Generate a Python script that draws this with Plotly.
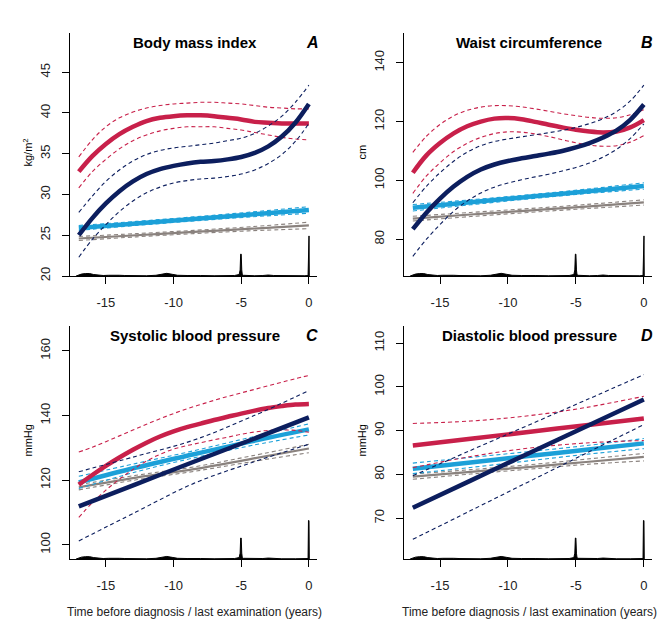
import plotly.graph_objects as go

# ---------------- data ----------------
x_curve = [-17, -16, -15, -14, -13, -12, -11, -10, -9, -8, -7, -6, -5, -4, -3, -2, -1, 0]
x_lin = [-17, -12.75, -8.5, -4.25, 0]

# Panel A: Body mass index
bmi_red = [32.8, 34.7, 36.2, 37.4, 38.3, 39.0, 39.4, 39.6, 39.7, 39.7, 39.6, 39.4, 39.2, 38.9, 38.8, 38.7, 38.7, 38.7]
bmi_red_hi = [34.6, 36.7, 38.3, 39.4, 40.1, 40.6, 40.9, 41.1, 41.2, 41.3, 41.3, 41.2, 41.1, 40.9, 40.7, 40.6, 40.5, 40.5]
bmi_red_lo = [30.8, 32.8, 34.3, 35.6, 36.6, 37.3, 37.8, 38.1, 38.3, 38.3, 38.3, 38.1, 37.9, 37.6, 37.3, 37.0, 36.8, 36.7]
bmi_navy = [25.0, 27.1, 28.9, 30.4, 31.6, 32.5, 33.1, 33.5, 33.8, 34.0, 34.1, 34.3, 34.6, 35.1, 35.9, 37.1, 38.8, 41.1]
bmi_navy_hi = [27.8, 29.8, 31.6, 33.0, 34.1, 34.9, 35.4, 35.7, 35.9, 36.1, 36.3, 36.6, 36.9, 37.5, 38.4, 39.6, 41.3, 43.4]
bmi_navy_lo = [22.3, 24.5, 26.3, 27.9, 29.2, 30.2, 30.9, 31.4, 31.7, 31.9, 32.0, 32.2, 32.5, 33.0, 33.8, 34.9, 36.5, 38.7]
bmi_blue = [25.9, 26.45, 27.0, 27.55, 28.1]
bmi_blue_hi = [26.2, 26.7, 27.25, 27.85, 28.5]
bmi_blue_lo = [25.6, 26.2, 26.75, 27.25, 27.7]
bmi_gray = [24.6, 25.0, 25.4, 25.8, 26.2]
bmi_gray_hi = [24.85, 25.2, 25.6, 26.05, 26.6]
bmi_gray_lo = [24.35, 24.8, 25.2, 25.55, 25.8]

# Panel B: Waist circumference
wc_red = [102.6, 108.5, 112.7, 116.0, 118.4, 120.0, 121.0, 121.2, 120.8, 119.9, 118.9, 118.0, 117.2, 116.6, 116.3, 116.6, 118.0, 120.5]
wc_red_hi = [109.5, 115.0, 119.0, 121.9, 123.8, 124.9, 125.4, 125.4, 125.0, 124.3, 123.5, 122.7, 122.0, 121.4, 121.1, 121.3, 122.3, 124.0]
wc_red_lo = [95.6, 101.5, 106.0, 109.8, 112.6, 114.6, 115.9, 116.5, 116.4, 115.8, 114.9, 113.8, 112.8, 112.0, 111.6, 111.8, 113.0, 115.2]
wc_navy = [83.4, 89.0, 93.8, 97.9, 101.2, 103.7, 105.4, 106.6, 107.5, 108.3, 109.1, 110.0, 111.2, 112.7, 114.6, 117.0, 120.6, 125.8]
wc_navy_hi = [92.4, 98.0, 102.6, 106.5, 109.6, 111.8, 113.2, 114.1, 114.8, 115.5, 116.2, 117.0, 118.0, 119.3, 121.0, 123.4, 127.0, 132.4]
wc_navy_lo = [74.2, 80.0, 85.0, 89.5, 93.0, 95.7, 97.7, 99.1, 100.2, 101.2, 102.1, 103.2, 104.4, 105.9, 107.9, 110.6, 114.3, 119.2]
wc_blue = [90.7, 92.55, 94.4, 96.25, 98.1]
wc_blue_hi = [91.8, 93.4, 95.1, 97.0, 99.2]
wc_blue_lo = [89.6, 91.7, 93.7, 95.5, 97.0]
wc_gray = [87.0, 88.4, 89.75, 91.1, 92.5]
wc_gray_hi = [87.8, 89.1, 90.4, 91.8, 93.4]
wc_gray_lo = [86.2, 87.7, 89.1, 90.4, 91.6]

# Panel C: Systolic blood pressure
sbp_red = [118.6, 121.6, 124.4, 127.0, 129.4, 131.6, 133.5, 135.1, 136.4, 137.5, 138.6, 139.6, 140.6, 141.5, 142.3, 142.9, 143.4, 143.6]
sbp_red_hi = [128.7, 130.2, 131.9, 133.7, 135.5, 137.3, 139.0, 140.6, 142.1, 143.4, 144.7, 145.9, 147.0, 148.1, 149.2, 150.3, 151.4, 152.4]
sbp_red_lo = [108.5, 113.0, 116.9, 120.3, 123.3, 125.9, 128.0, 129.6, 130.7, 131.6, 132.5, 133.3, 134.2, 134.9, 135.4, 135.5, 135.4, 134.8]
sbp_navy = [111.9, 118.8, 125.7, 132.5, 139.4]
sbp_navy_hi = [122.6, 127.4, 132.4, 139.6, 147.7]
sbp_navy_lo = [101.2, 110.2, 119.0, 125.4, 131.1]
sbp_blue = [119.3, 123.9, 128.0, 132.0, 135.7]
sbp_blue_hi = [121.2, 125.2, 129.1, 133.3, 137.4]
sbp_blue_lo = [117.4, 122.6, 126.9, 130.7, 134.0]
sbp_gray = [117.8, 120.8, 123.4, 126.6, 129.8]
sbp_gray_hi = [118.6, 121.5, 124.1, 127.5, 131.1]
sbp_gray_lo = [117.0, 120.1, 122.7, 125.7, 128.5]

# Panel D: Diastolic blood pressure
dbp_red = [86.6, 88.15, 89.7, 91.25, 92.8]
dbp_red_hi = [91.65, 92.2, 93.4, 95.3, 97.85]
dbp_red_lo = [81.55, 84.1, 86.0, 87.2, 87.75]
dbp_navy = [72.4, 78.6, 84.8, 90.95, 97.1]
dbp_navy_hi = [79.7, 85.5, 91.25, 97.0, 102.8]
dbp_navy_lo = [65.2, 71.75, 78.3, 84.85, 91.4]
dbp_blue = [81.3, 82.75, 84.2, 85.65, 87.1]
dbp_blue_hi = [82.6, 83.9, 85.2, 86.6, 88.2]
dbp_blue_lo = [80.2, 81.6, 83.1, 84.6, 85.9]
dbp_gray = [79.5, 80.6, 81.7, 82.85, 84.0]
dbp_gray_hi = [80.1, 81.1, 82.2, 83.5, 84.8]
dbp_gray_lo = [78.9, 80.1, 81.2, 82.3, 83.1]

# Distribution of examination times (relative height of the rug density)
dens_x = [-17.2, -17.0, -16.8, -16.5, -16.2, -15.9, -15.6, -15.2, -14.8, -14.4, -14.0, -13.6, -13.0,
          -12.0, -11.3, -10.9, -10.5, -10.1, -9.7, -9.0, -8.5, -8.0, -7.0, -6.0, -5.5, -5.15, -5.08,
          -5.04, -5.0, -4.96, -4.92, -4.85, -4.5, -4.0, -3.4, -3.0, -2.6, -2.0, -1.0, -0.3, -0.06,
          -0.03, 0.01, 0.03]
dens_y = [0.0, 0.004, 0.008, 0.010, 0.010, 0.006, 0.003, 0.002, 0.003, 0.004, 0.003, 0.002, 0.001,
          0.001, 0.003, 0.008, 0.011, 0.007, 0.003, 0.002, 0.003, 0.002, 0.001, 0.001, 0.002, 0.006, 0.025,
          0.09, 0.09, 0.025, 0.006, 0.003, 0.002, 0.001, 0.002, 0.004, 0.002, 0.001, 0.001, 0.001, 0.002,
          0.165, 0.165, 0.0]

titles = ["Body mass index", "Waist circumference", "Systolic blood pressure", "Diastolic blood pressure"]
letters = ["A", "B", "C", "D"]
units = ["kg/m<sup>2</sup>", "cm", "mmHg", "mmHg"]
y_ticks = [[20, 25, 30, 35, 40, 45], [80, 100, 120, 140], [100, 120, 140, 160], [70, 80, 90, 100, 110]]
x_ticks = [-15, -10, -5, 0]
x_label = "Time before diagnosis / last examination (years)"

# ---------------- styling ----------------
OFF = 8                 # default page margin of the html body
W, H = 669 - OFF, 630 - OFF
RED = "#C8204A"
NAVY = "#0C1E5E"
BLUE = "#1CA0D8"
GRAY = "#8A827E"
FONT = "Liberation Sans, Arial, sans-serif"


def fx(px):
    return (px - OFF) / W


def fy(py):
    return 1 - (py - OFF) / H


panels = [
    dict(curve=[(x_lin, bmi_gray, bmi_gray_hi, bmi_gray_lo, GRAY, 2.2),
                (x_lin, bmi_blue, bmi_blue_hi, bmi_blue_lo, BLUE, 4.5),
                (x_curve, bmi_red, bmi_red_hi, bmi_red_lo, RED, 4.5),
                (x_curve, bmi_navy, bmi_navy_hi, bmi_navy_lo, NAVY, 4.5)],
         px=(70, 317), py=(33, 276), yr=[20, 49.8]),
    dict(curve=[(x_lin, wc_gray, wc_gray_hi, wc_gray_lo, GRAY, 2.2),
                (x_lin, wc_blue, wc_blue_hi, wc_blue_lo, BLUE, 4.5),
                (x_curve, wc_red, wc_red_hi, wc_red_lo, RED, 4.5),
                (x_curve, wc_navy, wc_navy_hi, wc_navy_lo, NAVY, 4.5)],
         px=(404, 652), py=(33, 276), yr=[67.5, 150.1]),
    dict(curve=[(x_lin, sbp_gray, sbp_gray_hi, sbp_gray_lo, GRAY, 2.2),
                (x_lin, sbp_blue, sbp_blue_hi, sbp_blue_lo, BLUE, 4.5),
                (x_curve, sbp_red, sbp_red_hi, sbp_red_lo, RED, 4.5),
                (x_lin, sbp_navy, sbp_navy_hi, sbp_navy_lo, NAVY, 4.5)],
         px=(70, 317), py=(326, 559), yr=[95.6, 167.7]),
    dict(curve=[(x_lin, dbp_gray, dbp_gray_hi, dbp_gray_lo, GRAY, 2.2),
                (x_lin, dbp_blue, dbp_blue_hi, dbp_blue_lo, BLUE, 4.5),
                (x_lin, dbp_red, dbp_red_hi, dbp_red_lo, RED, 4.5),
                (x_lin, dbp_navy, dbp_navy_hi, dbp_navy_lo, NAVY, 4.5)],
         px=(404, 652), py=(326, 559), yr=[60.7, 113.9]),
]

fig = go.Figure()
layout = dict(width=W, height=H, margin=dict(l=0, r=0, t=0, b=0, autoexpand=False),
              paper_bgcolor="white", plot_bgcolor="white", showlegend=False,
              font=dict(family=FONT, color="#222"))
annotations = []

for i, p in enumerate(panels):
    n = i + 1
    xa = "x" if n == 1 else f"x{n}"
    ya = "y" if n == 1 else f"y{n}"
    yd = f"y{n + 4}"
    xdom = [fx(p["px"][0]), fx(p["px"][1])]
    ydom = [fy(p["py"][1]), fy(p["py"][0])]

    # rug density at bottom (secondary, hidden axis 0..1)
    fig.add_trace(go.Scatter(x=dens_x, y=dens_y, xaxis=xa, yaxis=yd, mode="lines",
                             line=dict(color="black", width=1), fill="tozeroy",
                             fillcolor="black", hoverinfo="skip"))

    for (xx, m, hi, lo, col, lw) in p["curve"]:
        for band in (hi, lo):
            fig.add_trace(go.Scatter(x=xx, y=band, xaxis=xa, yaxis=ya, mode="lines",
                                     line=dict(color=col, width=1.1, dash="4px,3px", shape="spline")))
        fig.add_trace(go.Scatter(x=xx, y=m, xaxis=xa, yaxis=ya, mode="lines",
                                 line=dict(color=col, width=lw, shape="spline")))

    axis_common = dict(showline=True, linecolor="black", linewidth=1, ticks="outside",
                       ticklen=7, tickwidth=1, tickcolor="black", showgrid=False,
                       zeroline=False, tickfont=dict(family=FONT, size=13, color="#222"))
    layout["xaxis" if n == 1 else f"xaxis{n}"] = dict(
        domain=xdom, range=[-17.65, 0.6], anchor=ya, tickvals=x_ticks,
        ticktext=[str(v) for v in x_ticks], ticklabelstandoff=7, **axis_common)
    layout["yaxis" if n == 1 else f"yaxis{n}"] = dict(
        domain=ydom, range=p["yr"], anchor=xa, tickvals=y_ticks[i],
        ticktext=[str(v) for v in y_ticks[i]], tickangle=-90, ticklabelstandoff=7, **axis_common)
    layout[f"yaxis{n + 4}"] = dict(overlaying=ya, anchor=xa, range=[0, 1], visible=False)

    cx = (p["px"][0] + p["px"][1]) / 2
    ty = p["py"][0] + 10
    annotations.append(dict(text=f"<b>{titles[i]}</b>", x=fx(cx + 1), y=fy(ty),
                            xref="paper", yref="paper", showarrow=False,
                            xanchor="center", yanchor="middle",
                            font=dict(family=FONT, size=15, color="black")))
    annotations.append(dict(text=f"<b><i>{letters[i]}</i></b>", x=fx(p["px"][1] - 5), y=fy(ty),
                            xref="paper", yref="paper", showarrow=False,
                            xanchor="center", yanchor="middle",
                            font=dict(family=FONT, size=16, color="black")))
    annotations.append(dict(text=units[i], x=fx(p["px"][0] - 43),
                            y=fy((p["py"][0] + p["py"][1]) / 2 - 2),
                            xref="paper", yref="paper", showarrow=False, textangle=-90,
                            xanchor="center", yanchor="middle",
                            font=dict(family=FONT, size=11, color="black")))
    if i >= 2:
        annotations.append(dict(text=x_label, x=fx(cx + 1), y=fy(612),
                                xref="paper", yref="paper", showarrow=False,
                                xanchor="center", yanchor="middle",
                                font=dict(family=FONT, size=12, color="#222")))

layout["annotations"] = annotations
fig.update_layout(**layout)
fig.write_html("out.html")
